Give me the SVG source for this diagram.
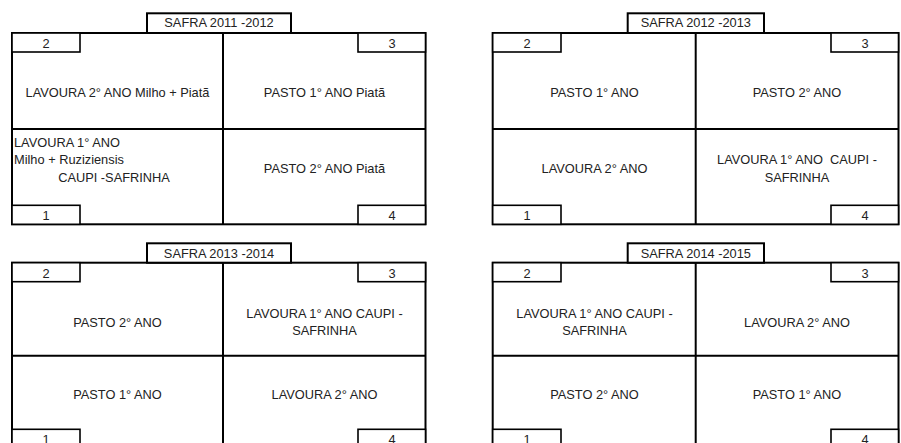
<svg xmlns="http://www.w3.org/2000/svg" width="901" height="443" viewBox="0 0 901 443">
<style>
.frame{fill:#fff;stroke:#000;stroke-width:2}
.div{stroke:#000;stroke-width:2;fill:none}
.tag{fill:#fff;stroke:#000;stroke-width:1.6}
text{font-family:"Liberation Sans",Arial,sans-serif;font-size:12.8px;fill:#222;text-anchor:middle}
.l{text-anchor:start}
</style>
<rect width="901" height="443" fill="#fff"/>

<!-- Panel 1 -->
<g id="safra-2011-2012">
  <rect class="frame" x="12" y="33" width="413.5" height="191.3"/>
  <line class="div" x1="223" y1="33" x2="223" y2="224.3"/>
  <line class="div" x1="12" y1="129" x2="425.5" y2="129"/>
  <rect class="frame" x="147" y="13.3" width="144" height="19.7"/>
  <text x="219" y="27.3">SAFRA 2011 -2012</text>
  <rect class="tag" x="12" y="33" width="68" height="19"/>
  <text x="46" y="48">2</text>
  <rect class="tag" x="358" y="33" width="67.5" height="19"/>
  <text x="392" y="48">3</text>
  <rect class="tag" x="12" y="205.3" width="68" height="19"/>
  <text x="46" y="220">1</text>
  <rect class="tag" x="358" y="205.3" width="67.5" height="19"/>
  <text x="392" y="220">4</text>
  <text x="117.5" y="96.5">LAVOURA 2° ANO Milho + Piatã</text>
  <text x="324.5" y="96.5">PASTO 1° ANO Piatã</text>
  <text class="l" x="14" y="146.7">LAVOURA 1° ANO</text>
  <text class="l" x="14" y="164.3">Milho + Ruziziensis</text>
  <text x="114" y="182.3">CAUPI -SAFRINHA</text>
  <text x="324.5" y="173.3">PASTO 2° ANO Piatã</text>
</g>

<!-- Panel 2 -->
<g id="safra-2012-2013">
  <rect class="frame" x="492.7" y="33" width="405.8" height="191.3"/>
  <line class="div" x1="695.7" y1="33" x2="695.7" y2="224.3"/>
  <line class="div" x1="492.7" y1="129" x2="898.5" y2="129"/>
  <rect class="frame" x="627.7" y="13.3" width="136.3" height="19.7"/>
  <text x="695.8" y="27.3">SAFRA 2012 -2013</text>
  <rect class="tag" x="492.7" y="33" width="68.3" height="19"/>
  <text x="527" y="48">2</text>
  <rect class="tag" x="831" y="33" width="67.5" height="19"/>
  <text x="865" y="48">3</text>
  <rect class="tag" x="492.7" y="205.3" width="68.3" height="19"/>
  <text x="527" y="220">1</text>
  <rect class="tag" x="831" y="205.3" width="67.5" height="19"/>
  <text x="865" y="220">4</text>
  <text x="594.5" y="96.7">PASTO 1° ANO</text>
  <text x="797" y="96.7">PASTO 2° ANO</text>
  <text x="594.5" y="173.3">LAVOURA 2° ANO</text>
  <text x="797" y="164" xml:space="preserve">LAVOURA 1° ANO  CAUPI -</text>
  <text x="797" y="182.3">SAFRINHA</text>
</g>

<!-- Panel 3 -->
<g id="safra-2013-2014">
  <rect class="frame" x="12" y="262.7" width="413.5" height="185.6"/>
  <line class="div" x1="223" y1="262.7" x2="223" y2="448.3"/>
  <line class="div" x1="12" y1="355.7" x2="425.5" y2="355.7"/>
  <rect class="frame" x="147" y="243.3" width="144" height="19.4"/>
  <text x="219" y="257.7">SAFRA 2013 -2014</text>
  <rect class="tag" x="12" y="262.7" width="68" height="19"/>
  <text x="46" y="278">2</text>
  <rect class="tag" x="358" y="262.7" width="67.5" height="19"/>
  <text x="392" y="278">3</text>
  <rect class="tag" x="12" y="429.3" width="68" height="19"/>
  <text x="46" y="444">1</text>
  <rect class="tag" x="358" y="429.3" width="67.5" height="19"/>
  <text x="392" y="444">4</text>
  <text x="117.5" y="326.7">PASTO 2° ANO</text>
  <text x="324.5" y="318">LAVOURA 1° ANO CAUPI -</text>
  <text x="324.5" y="335.3">SAFRINHA</text>
  <text x="117.5" y="399">PASTO 1° ANO</text>
  <text x="324.5" y="399">LAVOURA 2° ANO</text>
</g>

<!-- Panel 4 -->
<g id="safra-2014-2015">
  <rect class="frame" x="492.7" y="262.7" width="405.8" height="185.6"/>
  <line class="div" x1="695.7" y1="262.7" x2="695.7" y2="448.3"/>
  <line class="div" x1="492.7" y1="355.7" x2="898.5" y2="355.7"/>
  <rect class="frame" x="627.7" y="243.3" width="136.3" height="19.4"/>
  <text x="695.8" y="257.7">SAFRA 2014 -2015</text>
  <rect class="tag" x="492.7" y="262.7" width="68.3" height="19"/>
  <text x="527" y="278">2</text>
  <rect class="tag" x="831" y="262.7" width="67.5" height="19"/>
  <text x="865" y="278">3</text>
  <rect class="tag" x="492.7" y="429.3" width="68.3" height="19"/>
  <text x="527" y="444">1</text>
  <rect class="tag" x="831" y="429.3" width="67.5" height="19"/>
  <text x="865" y="444">4</text>
  <text x="594.5" y="318">LAVOURA 1° ANO CAUPI -</text>
  <text x="594.5" y="335.3">SAFRINHA</text>
  <text x="797" y="326.7">LAVOURA 2° ANO</text>
  <text x="594.5" y="399">PASTO 2° ANO</text>
  <text x="797" y="399">PASTO 1° ANO</text>
</g>

<g id="connectors"></g>
</svg>
